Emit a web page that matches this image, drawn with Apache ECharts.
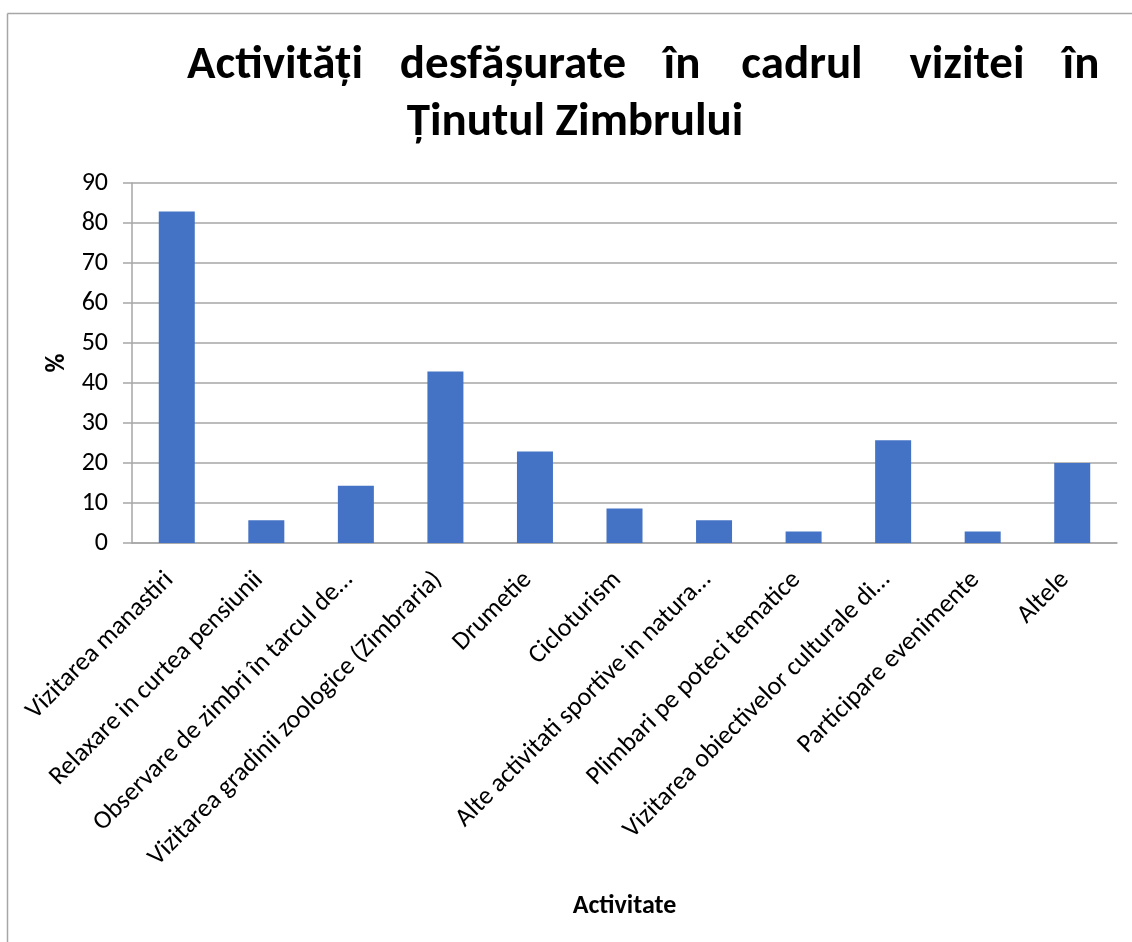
<!DOCTYPE html>
<html lang="ro">
<head>
    <meta charset="UTF-8">
    <title>Activitati Tinutul Zimbrului</title>
    <style>
        html, body { margin: 0; padding: 0; background: #fff; }
    </style>
</head>
<body>
<div id="chart" style="width:1132px;height:942px;"></div>
<script type="text/javascript" src="https://cdn.jsdelivr.net/npm/echarts@6/dist/echarts.min.js"></script>
<script type="text/javascript">
    // categorii (etichetele trunchiate ca in original)
    const categorii = [
        'Vizitarea manastiri',
        'Relaxare in curtea pensiunii',
        'Observare de zimbri în tarcul de…',
        'Vizitarea gradinii zoologice (Zimbraria)',
        'Drumetie',
        'Cicloturism',
        'Alte activitati sportive in natura…',
        'Plimbari pe poteci tematice',
        'Vizitarea obiectivelor culturale di…',
        'Participare evenimente',
        'Altele'
    ];
    // procente
    const procente = [82.9, 5.7, 14.3, 42.9, 22.9, 8.6, 5.7, 2.9, 25.7, 2.9, 20.0];
    const yTicks = {min: 0, max: 90, interval: 10};

    const font = 'Carlito, Lato, "Noto Sans", sans-serif';
    const gri = '#a6a6a6';

    // titlul e justificat pe primul rand, asa ca fiecare cuvant are centrul lui
    const titluRand1 = [
        ['Activități', 275], ['desfășurate', 513], ['în', 682],
        ['cadrul', 802], ['vizitei', 967], ['în', 1081]
    ];
    const titluRand2 = 'Ținutul Zimbrului';

    let chart = echarts.init(document.getElementById('chart'));

    let graphic = [
        // rama (doar stanga si sus se vad)
        {type: 'line', shape: {x1: 7.5, y1: 13.5, x2: 7.5, y2: 942}, style: {stroke: gri, lineWidth: 1.5}},
        {type: 'line', shape: {x1: 7.5, y1: 13.5, x2: 1132, y2: 13.5}, style: {stroke: gri, lineWidth: 1.5}}
    ];
    titluRand1.forEach(function (w) {
        graphic.push({
            type: 'text', x: w[1], y: 43,
            style: {text: w[0], font: 'bold 47px ' + font, fill: '#000', align: 'center', verticalAlign: 'top'}
        });
    });
    graphic.push({
        type: 'text', x: 575, y: 100,
        style: {text: titluRand2, font: 'bold 47px ' + font, fill: '#000', align: 'center', verticalAlign: 'top'}
    });

    let option = {
        animation: false,
        backgroundColor: '#fff',
        graphic: graphic,
        grid: {left: 132, right: 15, top: 183, bottom: 399},
        xAxis: {
            type: 'category',
            data: categorii,
            name: 'Activitate',
            nameLocation: 'middle',
            nameGap: 350,
            nameTextStyle: {fontFamily: font, fontWeight: 'bold', fontSize: 26, color: '#000', verticalAlign: 'top'},
            axisLine: {lineStyle: {color: gri, width: 1.5}},
            axisTick: {show: false},
            axisLabel: {
                interval: 0, rotate: 45, margin: 26, padding: [0, 10, 0, 0],
                fontFamily: font, fontSize: 26, color: '#000'
            }
        },
        yAxis: {
            type: 'value',
            min: yTicks.min, max: yTicks.max, interval: yTicks.interval,
            name: '%',
            nameLocation: 'middle',
            nameGap: 60,
            nameRotate: 90,
            nameTextStyle: {fontFamily: font, fontWeight: 'bold', fontSize: 26, color: '#000'},
            axisLine: {show: true, lineStyle: {color: gri, width: 1.5}},
            axisTick: {show: true, length: 9, lineStyle: {color: gri, width: 1.5}},
            axisLabel: {margin: 24, fontFamily: font, fontSize: 26, color: '#000'},
            splitLine: {lineStyle: {color: gri, width: 1.5}}
        },
        series: [{
            type: 'bar',
            data: procente,
            barWidth: 36,
            itemStyle: {color: '#4472C4'}
        }]
    };
    chart.setOption(option);
</script>
</body>
</html>
